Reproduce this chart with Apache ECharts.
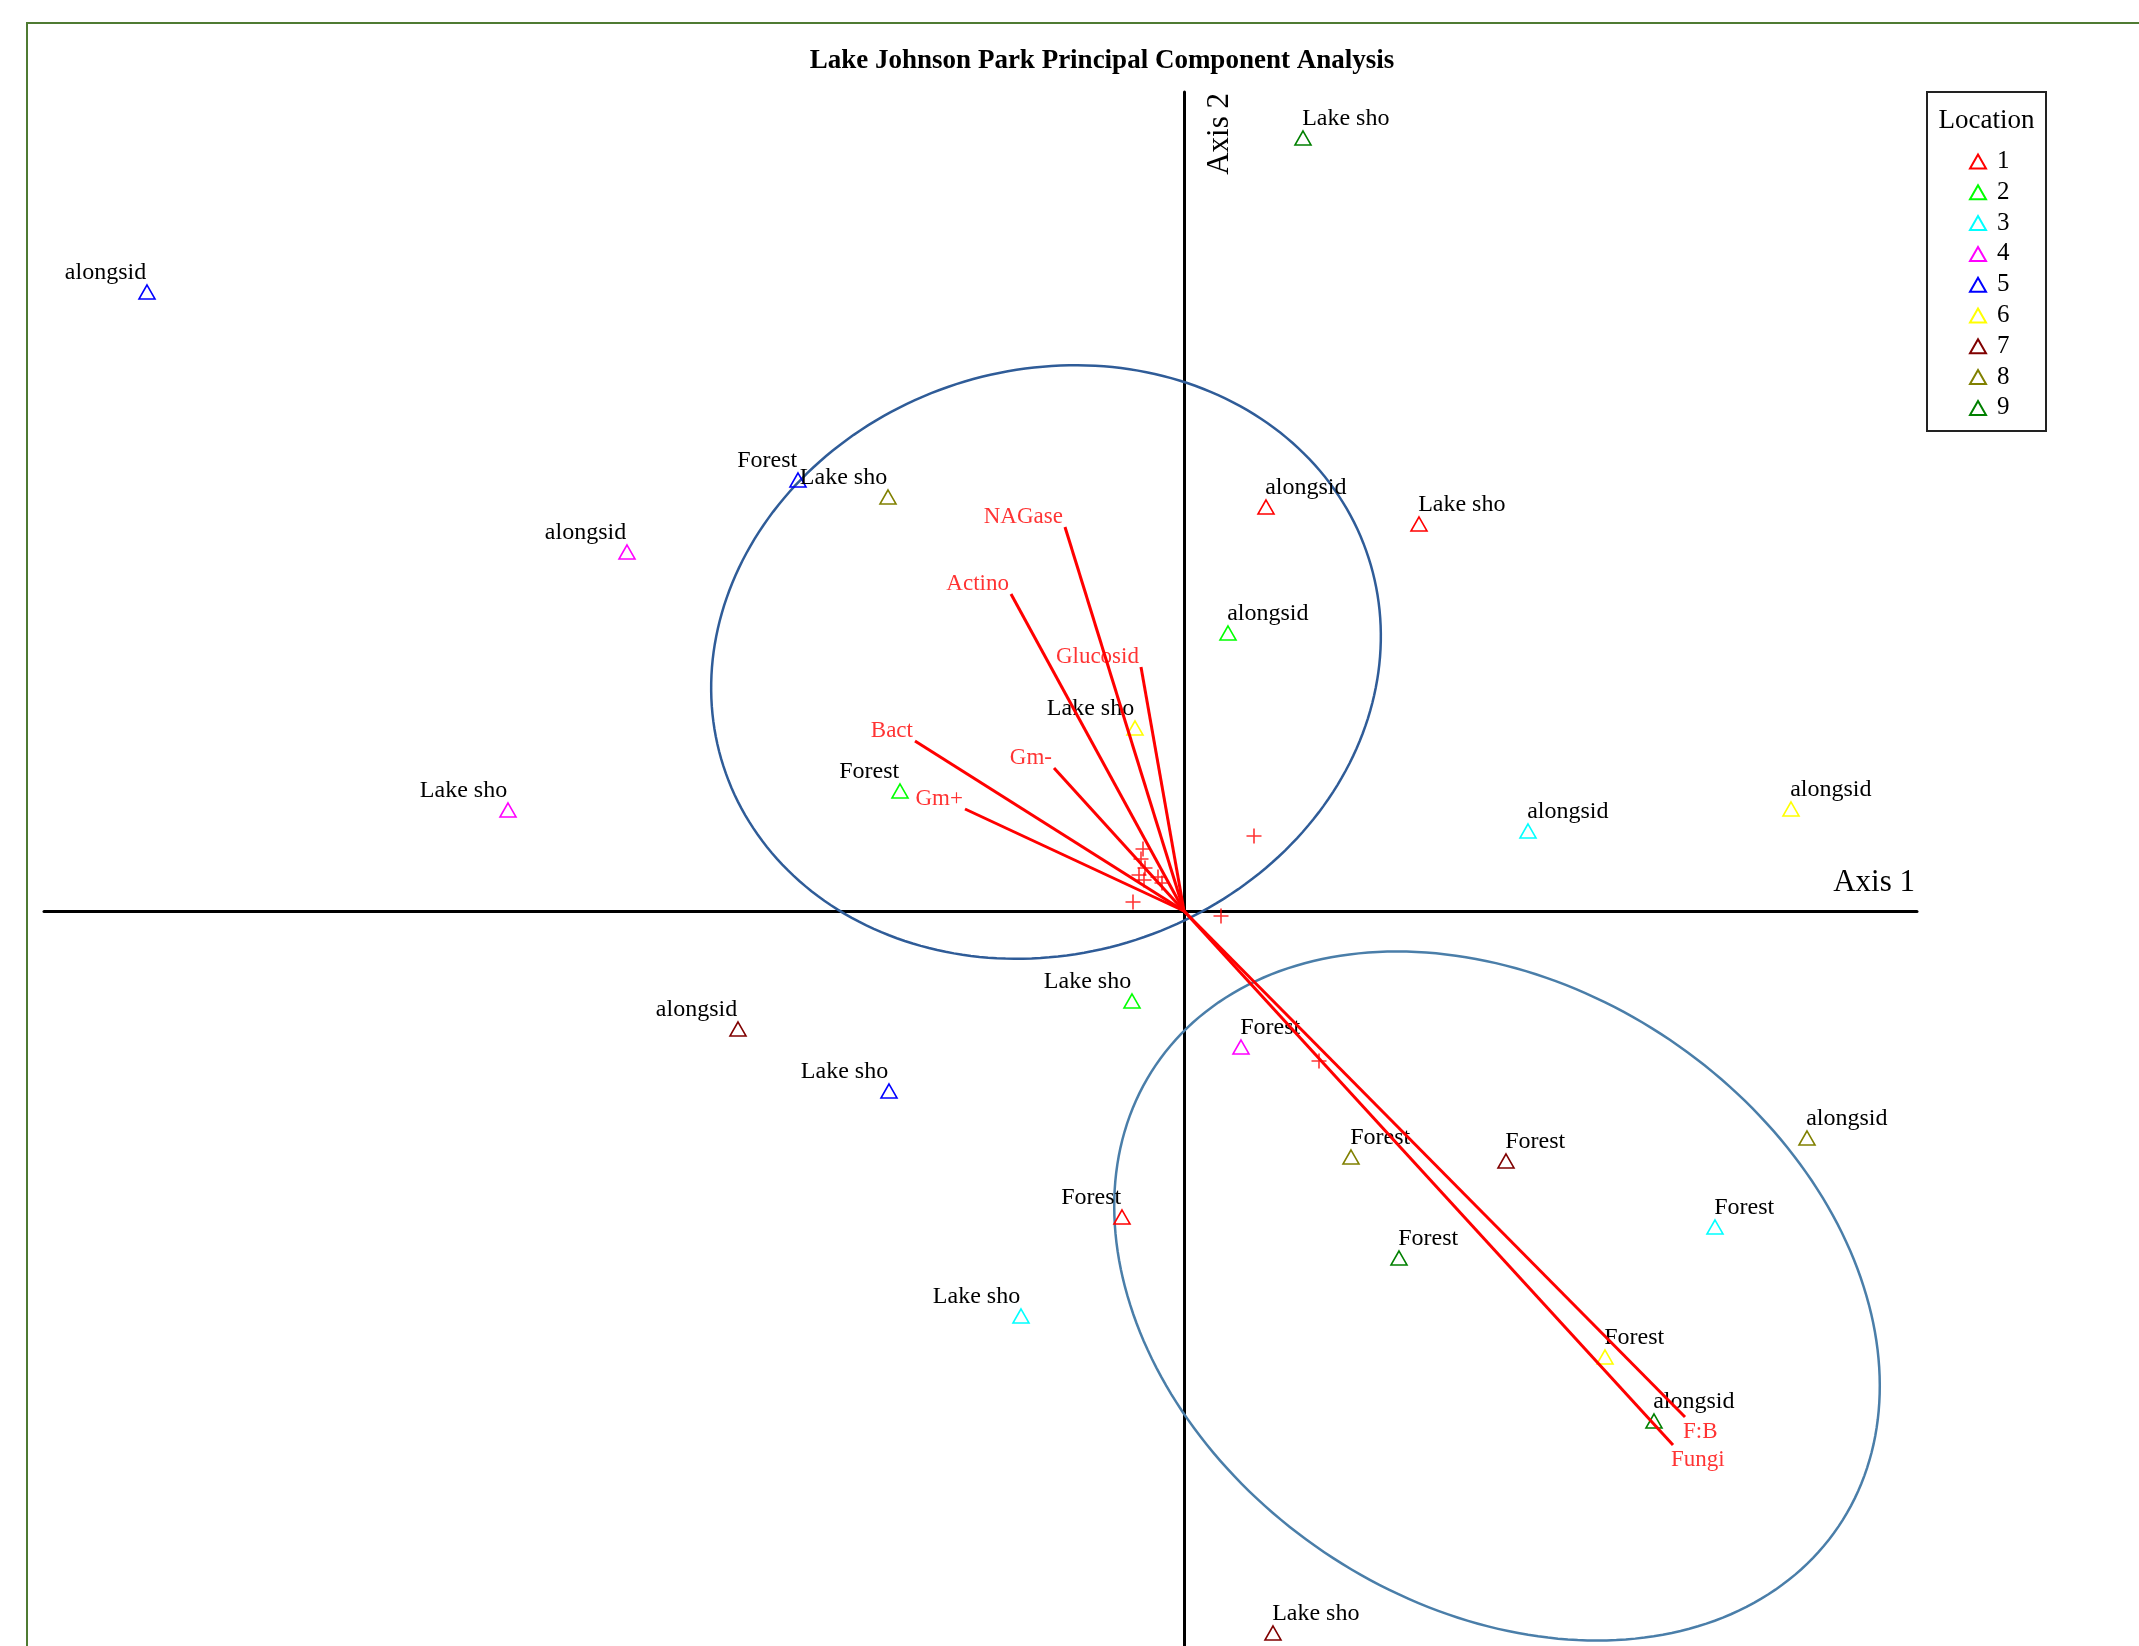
<!DOCTYPE html>
<html>
<head>
<meta charset="utf-8">
<script src="https://cdn.jsdelivr.net/npm/echarts@6/dist/echarts.min.js"></script>
<style>
  html, body { margin: 0; padding: 0; background: #ffffff; }
  #chart { width: 2139px; height: 1646px; }
</style>
</head>
<body>
<div id="chart"></div>
<script>
// PCA site scores per location: [axis 1, axis 2, site]
const loc1 = [[0.82, 4.04, 'alongsid'], [2.35, 3.87, 'Lake sho'], [-0.62, -3.06, 'Forest']];
const loc2 = [[0.44, 2.78, 'alongsid'], [-2.84, 1.20, 'Forest'], [-0.52, -0.90, 'Lake sho']];
const loc3 = [[3.44, 0.80, 'alongsid'], [5.31, -3.16, 'Forest'], [-1.63, -4.05, 'Lake sho']];
const loc4 = [[-5.57, 3.59, 'alongsid'], [-6.76, 1.01, 'Lake sho'], [0.57, -1.36, 'Forest']];
const loc5 = [[-10.37, 6.19, 'alongsid'], [-3.86, 4.31, 'Forest'], [-2.95, -1.80, 'Lake sho']];
const loc6 = [[6.07, 1.02, 'alongsid'], [-0.49, 1.83, 'Lake sho'], [4.21, -4.46, 'Forest']];
const loc7 = [[-4.46, -1.18, 'alongsid'], [3.22, -2.50, 'Forest'], [0.89, -7.22, 'Lake sho']];
const loc8 = [[-2.96, 4.14, 'Lake sho'], [1.67, -2.46, 'Forest'], [6.23, -2.27, 'alongsid']];
const loc9 = [[1.19, 7.73, 'Lake sho'], [2.15, -3.47, 'Forest'], [4.70, -5.10, 'alongsid']];

const locationNames = ['1', '2', '3', '4', '5', '6', '7', '8', '9'];
const locationScores = [loc1, loc2, loc3, loc4, loc5, loc6, loc7, loc8, loc9];
const locationColors = ['#ff0000', '#00ff00', '#00ffff', '#ff00ff', '#0000ff',
                        '#ffff00', '#800000', '#808000', '#008000'];

// Variable vectors (joint plot), drawn from the origin
const vectorNames = ['NAGase', 'Actino', 'Glucosid', 'Bact', 'Gm-', 'Gm+', 'F:B', 'Fungi'];
const vectorX = [-1.19, -1.73, -0.43, -2.69, -1.30, -2.19, 5.01, 4.89];
const vectorY = [3.84, 3.17, 2.44, 1.70, 1.43, 1.02, -5.06, -5.34];

// Unlabelled variable positions shown as crosses
const crossX = [-0.41, -0.43, -0.39, -0.45, -0.40, -0.26, -0.22, -0.51, 0.70, 0.37, 1.35];
const crossY = [0.62, 0.52, 0.43, 0.36, 0.31, 0.34, 0.28, 0.09, 0.75, -0.05, -1.50];

// Group ellipses: [centre x, centre y, semi-axis a, semi-axis b, rotation in degrees]
const ellipseUpper = [-1.38, 2.49, 3.39, 2.92, 17.9];
const ellipseLower = [3.13, -3.85, 4.12, 3.09, -34.0];

// Axis extents
const X_MIN = -11.40, X_MAX = 7.33, Y_MIN = -7.35, Y_MAX = 8.19;

const SERIF = '"Liberation Serif", "Times New Roman", serif';

function renderEllipse(params, api) {
  const cx = api.value(0), cy = api.value(1);
  const a = api.value(2), b = api.value(3);
  const ang = api.value(4) * Math.PI / 180;
  const pts = [];
  for (let i = 0; i <= 240; i++) {
    const t = i / 240 * 2 * Math.PI;
    const ex = a * Math.cos(t), ey = b * Math.sin(t);
    pts.push(api.coord([
      cx + ex * Math.cos(ang) - ey * Math.sin(ang),
      cy + ex * Math.sin(ang) + ey * Math.cos(ang)
    ]));
  }
  return {
    type: 'polyline',
    shape: { points: pts },
    style: { fill: 'none', stroke: api.visual('color'), lineWidth: 2.5 }
  };
}

const series = [];

// ellipses
[[ellipseUpper, '#2f5c98'], [ellipseLower, '#4a7ea9']].forEach(function (e) {
  series.push({
    type: 'custom',
    silent: true,
    clip: false,
    z: 1,
    itemStyle: { color: e[1] },
    renderItem: renderEllipse,
    data: [e[0]]
  });
});

// site scores by location
locationScores.forEach(function (scores, i) {
  series.push({
    name: locationNames[i],
    type: 'scatter',
    z: 2,
    symbol: 'triangle',
    symbolSize: [16, 14],
    itemStyle: { color: 'rgba(255,255,255,0)', borderColor: locationColors[i], borderWidth: 1.6, opacity: 1 },
    label: {
      show: true,
      formatter: '{b}',
      position: [8, 0.5],
      verticalAlign: 'bottom',
      color: '#000',
      fontFamily: SERIF,
      fontSize: 24
    },
    emphasis: { disabled: true },
    data: scores.map(function (s) {
      return { name: s[2], value: [s[0], s[1]], label: { align: s[0] < 0 ? 'right' : 'left' } };
    })
  });
});

// vectors
series.push({
  type: 'lines',
  coordinateSystem: 'cartesian2d',
  silent: true,
  z: 5,
  lineStyle: { color: '#ff0000', width: 3, opacity: 1 },
  data: vectorNames.map(function (n, i) {
    return { coords: [[0, 0], [vectorX[i], vectorY[i]]] };
  })
});

// vector names at the tips
series.push({
  type: 'scatter',
  silent: true,
  z: 6,
  symbolSize: 0.1,
  itemStyle: { color: 'rgba(0,0,0,0)' },
  label: {
    show: true,
    formatter: '{b}',
    position: [0, 0],
    color: '#ff0000',
    fontFamily: SERIF,
    fontSize: 23
  },
  data: vectorNames.map(function (n, i) {
    const up = vectorY[i] >= 0;
    return {
      name: n,
      value: [vectorX[i], vectorY[i]],
      label: up
        ? { align: 'right', verticalAlign: 'bottom', offset: [-2, 1.5] }
        : { align: 'left', verticalAlign: 'top', offset: [-2, 3.5] }
    };
  })
});

// crosses
series.push({
  type: 'scatter',
  silent: true,
  z: 6,
  symbol: 'path://M0,5L10,5M5,0L5,10',
  symbolSize: 15,
  itemStyle: { color: 'rgba(0,0,0,0)', borderColor: '#ff0000', borderWidth: 1.6 },
  data: crossX.map(function (x, i) { return [x, crossY[i]]; })
});

const chart = echarts.init(document.getElementById('chart'), null, { renderer: 'canvas' });

chart.setOption({
  backgroundColor: '#ffffff',
  animation: false,
  title: {
    text: 'Lake Johnson Park Principal Component Analysis',
    left: 1102,
    top: 48,
    padding: 0,
    textAlign: 'center',
    textStyle: { fontFamily: SERIF, fontSize: 27, fontWeight: 'bold', color: '#000' }
  },
  legend: {
    data: locationNames,
    orient: 'vertical',
    left: 1969,
    top: 149,
    padding: 0,
    itemWidth: 16,
    itemHeight: 14,
    itemGap: 5.8,
    selectedMode: false,
    textStyle: { fontFamily: SERIF, fontSize: 25, lineHeight: 24, color: '#000', padding: [0, 0, 0, 6] }
  },
  grid: { left: 44, right: 222, top: 92, bottom: 0, containLabel: false },
  xAxis: {
    type: 'value', min: X_MIN, max: X_MAX,
    axisLine: { onZero: true, lineStyle: { color: '#000', width: 3 } },
    axisTick: { show: false }, axisLabel: { show: false }, splitLine: { show: false },
    name: 'Axis 1',
    nameLocation: 'end',
    nameGap: 0,
    nameTextStyle: { fontFamily: SERIF, fontSize: 31, color: '#000', align: 'right', verticalAlign: 'bottom', padding: [0, 2, 13, 0] }
  },
  yAxis: {
    type: 'value', min: Y_MIN, max: Y_MAX,
    axisLine: { onZero: true, lineStyle: { color: '#000', width: 3 } },
    axisTick: { show: false }, axisLabel: { show: false }, splitLine: { show: false }
  },
  graphic: [
    {
      type: 'rect', silent: true, z: 0,
      shape: { x: 27, y: 23, width: 2400, height: 2000 },
      style: { fill: 'none', stroke: '#4f7b32', lineWidth: 2 }
    },
    {
      type: 'rect', silent: true, z: 10,
      shape: { x: 1927, y: 92, width: 119, height: 339 },
      style: { fill: 'none', stroke: '#222', lineWidth: 2 }
    },
    {
      type: 'text', silent: true, z: 10,
      x: 1986.5, y: 121,
      style: { text: 'Location', fill: '#000', font: '27px ' + SERIF, textAlign: 'center', textVerticalAlign: 'middle', align: 'center', verticalAlign: 'middle' }
    },
    {
      type: 'text', silent: true, z: 10,
      x: 1204, y: 93, rotation: Math.PI / 2,
      style: { text: 'Axis 2', fill: '#000', font: '31px ' + SERIF, textAlign: 'right', textVerticalAlign: 'top', align: 'right', verticalAlign: 'top' }
    }
  ],
  series: series
});
</script>
</body>
</html>
